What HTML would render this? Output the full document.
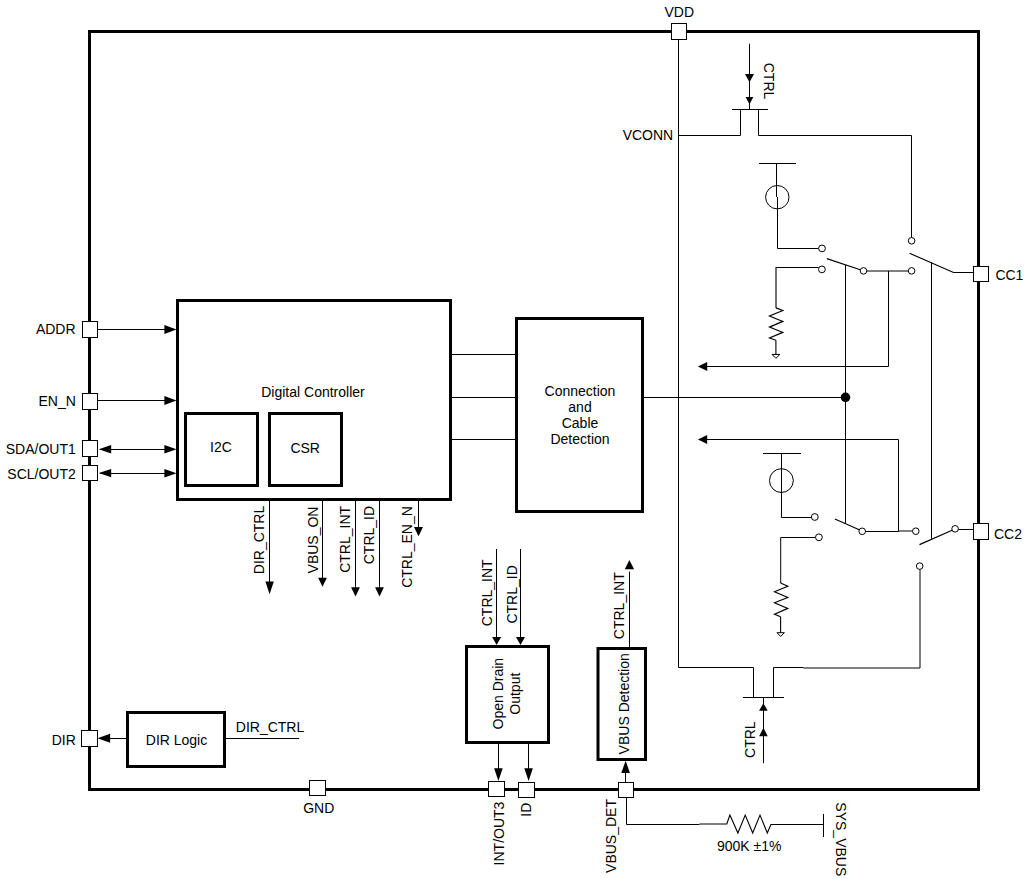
<!DOCTYPE html>
<html><head><meta charset="utf-8"><style>
html,body{margin:0;padding:0;background:#fff;overflow:hidden;}
svg{display:block;}
text{font-family:"Liberation Sans",sans-serif;fill:#000;stroke:none;}
</style></head><body>
<svg width="1027" height="879" viewBox="0 0 1027 879">
<rect x="0" y="0" width="1027" height="879" fill="#fff"/>
<g stroke="#000" fill="none">
<rect x="89.5" y="31.5" width="889" height="758" stroke-width="3" fill="none"/>
<line x1="98" y1="329.5" x2="166" y2="329.5" stroke-width="1.0"/>
<polygon points="176.5,329.5 164.4,325.1 164.4,333.9" fill="#000" stroke="none"/>
<line x1="98" y1="400.5" x2="166" y2="400.5" stroke-width="1.0"/>
<polygon points="176.5,400.5 164.4,396.1 164.4,404.9" fill="#000" stroke="none"/>
<line x1="100" y1="449.5" x2="166" y2="449.5" stroke-width="1.0"/>
<polygon points="176.5,449.3 164.4,445.0 164.4,453.6" fill="#000" stroke="none"/>
<polygon points="98.8,449.2 111.2,445.0 111.2,453.4" fill="#000" stroke="none"/>
<line x1="100" y1="473.5" x2="166" y2="473.5" stroke-width="1.0"/>
<polygon points="176.5,473.3 164.4,469.0 164.4,477.6" fill="#000" stroke="none"/>
<polygon points="98.8,473.1 111.2,468.90000000000003 111.2,477.3" fill="#000" stroke="none"/>
<rect x="82.5" y="321.5" width="15.0" height="16.0" stroke-width="1.0" fill="#fff"/>
<rect x="82.5" y="393.5" width="15.0" height="16.0" stroke-width="1.0" fill="#fff"/>
<rect x="82.5" y="440.5" width="15.0" height="16.0" stroke-width="1.0" fill="#fff"/>
<rect x="82.5" y="465.5" width="15.0" height="15.0" stroke-width="1.0" fill="#fff"/>
<text x="75.6" y="333.8" text-anchor="end" font-size="14">ADDR</text>
<text x="75.8" y="405.6" text-anchor="end" font-size="14">EN_N</text>
<text x="75.8" y="454.2" text-anchor="end" font-size="14">SDA/OUT1</text>
<text x="75.8" y="479.0" text-anchor="end" font-size="14">SCL/OUT2</text>
<rect x="177.50" y="300.50" width="273.00" height="199.00" stroke-width="3" fill="#fff"/>
<rect x="185.50" y="413.50" width="72.00" height="72.00" stroke-width="3" fill="#fff"/>
<rect x="269.50" y="413.50" width="72.00" height="72.00" stroke-width="3" fill="#fff"/>
<text x="313" y="396.9" text-anchor="middle" font-size="14">Digital Controller</text>
<text x="221" y="452.3" text-anchor="middle" font-size="14">I2C</text>
<text x="305.2" y="452.5" text-anchor="middle" font-size="14">CSR</text>
<line x1="452" y1="354.5" x2="515.5" y2="354.5" stroke-width="1.0"/>
<line x1="452" y1="397.5" x2="515.5" y2="397.5" stroke-width="1.0"/>
<line x1="452" y1="439.5" x2="515.5" y2="439.5" stroke-width="1.0"/>
<rect x="516.50" y="318.50" width="126.00" height="193.00" stroke-width="3" fill="#fff"/>
<text x="580" y="395.9" text-anchor="middle" font-size="14">Connection</text>
<text x="580" y="411.9" text-anchor="middle" font-size="14">and</text>
<text x="580" y="427.9" text-anchor="middle" font-size="14">Cable</text>
<text x="580" y="443.9" text-anchor="middle" font-size="14">Detection</text>
<line x1="269.5" y1="501" x2="269.5" y2="584" stroke-width="1.0"/>
<polygon points="269.6,594.3 265.40000000000003,581.5 273.8,581.5" fill="#000" stroke="none"/>
<line x1="322.5" y1="501" x2="322.5" y2="580" stroke-width="1.0"/>
<polygon points="322.5,586.8 318.1,577.7 326.9,577.7" fill="#000" stroke="none"/>
<line x1="355.5" y1="501" x2="355.5" y2="590" stroke-width="1.0"/>
<polygon points="355.5,596.4 351.1,587.3 359.9,587.3" fill="#000" stroke="none"/>
<line x1="379.5" y1="501" x2="379.5" y2="590" stroke-width="1.0"/>
<polygon points="379.5,596.4 375.1,587.3 383.9,587.3" fill="#000" stroke="none"/>
<line x1="418.5" y1="501" x2="418.5" y2="530" stroke-width="1.0"/>
<polygon points="418.5,536.2 414.0,527 423.0,527" fill="#000" stroke="none"/>
<text transform="translate(263.5,540) rotate(-90)" text-anchor="middle" font-size="14">DIR_CTRL</text>
<text transform="translate(317.5,540) rotate(-90)" text-anchor="middle" font-size="14">VBUS_ON</text>
<text transform="translate(350.1,539.4) rotate(-90)" text-anchor="middle" font-size="14">CTRL_INT</text>
<text transform="translate(373.8,535.1) rotate(-90)" text-anchor="middle" font-size="14">CTRL_ID</text>
<text transform="translate(411.5,547) rotate(-90)" text-anchor="middle" font-size="14">CTRL_EN_N</text>
<line x1="496.5" y1="549" x2="496.5" y2="640" stroke-width="1.0"/>
<polygon points="496.6,645 492.1,636.9 501.1,636.9" fill="#000" stroke="none"/>
<line x1="520.5" y1="549" x2="520.5" y2="640" stroke-width="1.0"/>
<polygon points="520.5,645 516.0,636.9 525.0,636.9" fill="#000" stroke="none"/>
<text transform="translate(491.7,592.8) rotate(-90)" text-anchor="middle" font-size="14">CTRL_INT</text>
<text transform="translate(516.9,594.4) rotate(-90)" text-anchor="middle" font-size="14">CTRL_ID</text>
<rect x="466.50" y="646.50" width="82.00" height="96.00" stroke-width="3" fill="#fff"/>
<text transform="translate(503.2,693.7) rotate(-90)" text-anchor="middle" font-size="14">Open Drain</text>
<text transform="translate(519.6,693.7) rotate(-90)" text-anchor="middle" font-size="14">Output</text>
<line x1="498.5" y1="744" x2="498.5" y2="772" stroke-width="1.0"/>
<polygon points="498.4,781 494.09999999999997,768.3 502.7,768.3" fill="#000" stroke="none"/>
<line x1="528.5" y1="744" x2="528.5" y2="772" stroke-width="1.0"/>
<polygon points="528.6,781 524.3000000000001,768.3 532.9,768.3" fill="#000" stroke="none"/>
<rect x="488.5" y="781.5" width="16.0" height="15.0" stroke-width="1.0" fill="#fff"/>
<rect x="518.5" y="782.5" width="16.0" height="15.0" stroke-width="1.0" fill="#fff"/>
<text transform="translate(504.4,833.5) rotate(-90)" text-anchor="middle" font-size="14">INT/OUT3</text>
<text transform="translate(531.2,809.7) rotate(-90)" text-anchor="middle" font-size="14">ID</text>
<rect x="598.00" y="648.50" width="47.50" height="111.00" stroke-width="3" fill="#fff"/>
<line x1="629.5" y1="647" x2="629.5" y2="571.6" stroke-width="1.0"/>
<polygon points="629.4,560 624.75,569.3 634.05,569.3" fill="#000" stroke="none"/>
<text transform="translate(623.7,605.7) rotate(-90)" text-anchor="middle" font-size="14">CTRL_INT</text>
<text transform="translate(628.6,703.8) rotate(-90)" text-anchor="middle" font-size="14">VBUS Detection</text>
<line x1="625.5" y1="782.4" x2="625.5" y2="770" stroke-width="1.0"/>
<polygon points="625.6,760.8 621.25,773 629.95,773" fill="#000" stroke="none"/>
<rect x="618.5" y="782.5" width="15.0" height="15.0" stroke-width="1.0" fill="#fff"/>
<text transform="translate(616.3,836.0) rotate(-90)" text-anchor="middle" font-size="14">VBUS_DET</text>
<polyline points="626.5,797.5 626.5,824.5 699.5,824.5" stroke-width="1.0"/>
<polyline points="699.5,824 726.8,824 729.9,815.1 737.9,833 745.2,815.1 752.7,833 760,815.1 767.3,833 770.9,824.5 823.5,824.5" stroke-width="1.1"/>
<line x1="823.5" y1="814" x2="823.5" y2="837" stroke-width="1.0"/>
<text x="749.2" y="850.6" text-anchor="middle" font-size="14">900K ±1%</text>
<text transform="translate(835.8,839.3) rotate(90)" text-anchor="middle" font-size="14">SYS_VBUS</text>
<rect x="127.50" y="712.50" width="97.00" height="54.00" stroke-width="3" fill="#fff"/>
<text x="176.5" y="745.3" text-anchor="middle" font-size="14">DIR Logic</text>
<line x1="110" y1="738.5" x2="126.2" y2="738.5" stroke-width="1.0"/>
<polygon points="97.5,738.3 110.1,733.8 110.1,742.8" fill="#000" stroke="none"/>
<rect x="81.5" y="730.5" width="16.0" height="16.0" stroke-width="1.0" fill="#fff"/>
<text x="75.8" y="745.3" text-anchor="end" font-size="14">DIR</text>
<line x1="226" y1="738.5" x2="299.1" y2="738.5" stroke-width="1.0"/>
<text x="235.8" y="732.1" text-anchor="start" font-size="14">DIR_CTRL</text>
<rect x="309.5" y="780.5" width="16.0" height="15.0" stroke-width="1.0" fill="#fff"/>
<text x="318.7" y="813" text-anchor="middle" font-size="14">GND</text>
<rect x="671.5" y="23.5" width="15.0" height="16.0" stroke-width="1.0" fill="#fff"/>
<text x="679.3" y="17.1" text-anchor="middle" font-size="14">VDD</text>
<polyline points="678.5,39.5 678.5,667.5 753.5,667.5 753.5,697.5" stroke-width="1.0"/>
<polyline points="678.5,135.5 740.5,135.5 740.5,109.5" stroke-width="1.0"/>
<line x1="732" y1="109.5" x2="768" y2="109.5" stroke-width="1.0"/>
<polyline points="758.5,109.5 758.5,135.5 911.5,135.5 911.5,237.6" stroke-width="1.0"/>
<text x="673.2" y="139.8" text-anchor="end" font-size="14">VCONN</text>
<line x1="749.5" y1="43.7" x2="749.5" y2="109.5" stroke-width="1.0"/>
<polygon points="749.5,82.3 745.0,74 754.0,74" fill="#000" stroke="none"/>
<polygon points="749.5,104.4 745.7,96.9 753.3,96.9" fill="#000" stroke="none"/>
<text transform="translate(764.3,81) rotate(90)" text-anchor="middle" font-size="14">CTRL</text>
<circle cx="911.6" cy="240.8" r="3.3" stroke-width="1.0" fill="#fff"/>
<line x1="759" y1="163.5" x2="796" y2="163.5" stroke-width="1.0"/>
<line x1="776.5" y1="163.5" x2="776.5" y2="197" stroke-width="1.0"/>
<polyline points="777.5,197 777.5,248.5 818.6,248.5" stroke-width="1.0"/>
<circle cx="777.3" cy="197.2" r="11.7" stroke-width="1.0" fill="none"/>
<circle cx="822" cy="248.4" r="3.4" stroke-width="1.0" fill="#fff"/>
<polyline points="776,307.9 776,267.5 818.5,267.5" stroke-width="1.1"/>
<circle cx="821.9" cy="269.4" r="3.4" stroke-width="1.0" fill="#fff"/>
<polyline points="776,307.9 782.8,310.5 769.5,316 782.8,321.4 769.5,327.1 782.8,332.4 769.5,338 775.9,340.3" stroke-width="1.15"/>
<line x1="775.9" y1="340.3" x2="775.9" y2="354.4" stroke-width="1.1"/>
<polygon points="772,354.4 779.9,354.4 775.9,358.3" stroke-width="1" fill="none"/>
<line x1="826.8" y1="258.6" x2="860.3" y2="269.7" stroke-width="1.15"/>
<circle cx="863.5" cy="270.9" r="3.3" stroke-width="1.0" fill="#fff"/>
<line x1="866.8" y1="271" x2="908.3" y2="271" stroke-width="1.0"/>
<circle cx="911.6" cy="270.9" r="3.3" stroke-width="1.0" fill="#fff"/>
<polyline points="888.5,271 888.5,366.5 706.5,366.5" stroke-width="1.0"/>
<polygon points="697.9,366.5 707.2,362.1 707.2,370.9" fill="#000" stroke="none"/>
<line x1="845.5" y1="265" x2="845.5" y2="523" stroke-width="1.0"/>
<polyline points="909.6,253.3 953.5,272.5 973.3,272.5" stroke-width="1.15"/>
<line x1="931.5" y1="262.6" x2="931.5" y2="538.6" stroke-width="1.0"/>
<line x1="644" y1="397.5" x2="845.3" y2="397.5" stroke-width="1.0"/>
<circle cx="845.5" cy="397.3" r="4.8" stroke-width="0" fill="#000"/>
<line x1="763" y1="453.5" x2="801" y2="453.5" stroke-width="1.0"/>
<polyline points="781.5,453.5 781.5,517.5 811.4,517.5" stroke-width="1.0"/>
<circle cx="781.4" cy="480.6" r="11.9" stroke-width="1.0" fill="none"/>
<circle cx="814.8" cy="517" r="3.4" stroke-width="1.0" fill="#fff"/>
<polyline points="780.7,583 780.7,537.5 815.5,537.5" stroke-width="1.0"/>
<circle cx="818.9" cy="537.3" r="3.4" stroke-width="1.0" fill="#fff"/>
<polyline points="780.5,583 787.8,586.2 774.5,591.8 787.8,597.5 774.5,602.8 787.8,608.4 774.5,614.2 780.6,616.8" stroke-width="1.15"/>
<line x1="780.6" y1="616.8" x2="780.6" y2="632.7" stroke-width="1.1"/>
<polygon points="777,632.7 784.4,632.7 780.6,636.4" stroke-width="1" fill="none"/>
<line x1="834.9" y1="518.9" x2="859.2" y2="529.8" stroke-width="1.15"/>
<circle cx="862.2" cy="531.3" r="3.3" stroke-width="1.0" fill="#fff"/>
<line x1="865.5" y1="531.5" x2="898.5" y2="531.5" stroke-width="1.0"/>
<line x1="898.5" y1="531" x2="912.5" y2="531" stroke-width="1.0"/>
<circle cx="915.8" cy="531.2" r="3.3" stroke-width="1.0" fill="#fff"/>
<polyline points="898.5,531.5 898.5,439.5 706.5,439.5" stroke-width="1.0"/>
<polygon points="697.9,439.5 707.2,435.1 707.2,443.9" fill="#000" stroke="none"/>
<line x1="919.5" y1="544.6" x2="952.1" y2="530.2" stroke-width="1.15"/>
<circle cx="955.1" cy="528.8" r="3.3" stroke-width="1.0" fill="#fff"/>
<line x1="958.4" y1="529.5" x2="973.3" y2="529.5" stroke-width="1.0"/>
<circle cx="919.7" cy="566.1" r="3.3" stroke-width="1.0" fill="#fff"/>
<polyline points="920,569.5 920,668 803.6,668" stroke-width="1.0"/>
<polyline points="803.6,667.5 773.5,667.5 773.5,697.5" stroke-width="1.0"/>
<line x1="743" y1="697.5" x2="784" y2="697.5" stroke-width="1.0"/>
<line x1="763.5" y1="697.5" x2="763.5" y2="763.2" stroke-width="1.0"/>
<polygon points="763.4,703.2 759.1,710.7 767.6999999999999,710.7" fill="#000" stroke="none"/>
<polygon points="763.4,727.8 759.1,736.2 767.6999999999999,736.2" fill="#000" stroke="none"/>
<text transform="translate(755.2,739.7) rotate(-90)" text-anchor="middle" font-size="14">CTRL</text>
<rect x="973.5" y="266.5" width="15.0" height="15.0" stroke-width="1.0" fill="#fff"/>
<rect x="973.5" y="523.5" width="15.0" height="16.0" stroke-width="1.0" fill="#fff"/>
<text x="995.4" y="279.7" text-anchor="start" font-size="14">CC1</text>
<text x="994" y="538.5" text-anchor="start" font-size="14">CC2</text>
</g>
</svg>
</body></html>
